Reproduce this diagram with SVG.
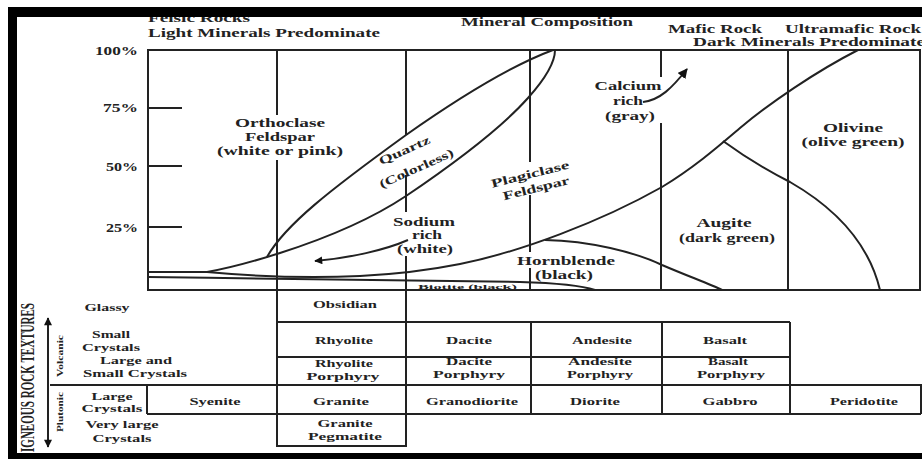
<svg xmlns="http://www.w3.org/2000/svg" width="922" height="459" viewBox="0 0 922 459">
<style>
text{font-family:"Liberation Serif","Times New Roman",serif;font-weight:bold;fill:#222}
.h{font-size:13px}
.c{font-size:12px}
.s{font-size:10px}
.m{text-anchor:middle}
.e{text-anchor:end}
.ln{stroke:#222;stroke-width:2;fill:none}
.bar{fill:#000}
</style>
<defs>
<marker id="ah" viewBox="0 0 10 10" refX="9" refY="5" markerWidth="13" markerHeight="8" markerUnits="userSpaceOnUse" orient="auto-start-reverse">
<path d="M0,0 L10,5 L0,10 z" fill="#111"/>
</marker>
<marker id="ah2" viewBox="0 0 10 10" refX="9" refY="5" markerWidth="10" markerHeight="10" markerUnits="userSpaceOnUse" orient="auto-start-reverse">
<path d="M0,0 L10,5 L0,10 z" fill="#111"/>
</marker>
</defs>
<rect width="922" height="459" fill="#fff"/>

<g id="header">
<text x="148" y="22" style="font-size:12px" textLength="102" lengthAdjust="spacingAndGlyphs">Felsic Rocks</text>
<text class="h" x="148" y="37" textLength="232" lengthAdjust="spacingAndGlyphs">Light Minerals Predominate</text>
<text class="h" x="461" y="26" textLength="172" lengthAdjust="spacingAndGlyphs">Mineral Composition</text>
<text class="h" x="668" y="33" textLength="94" lengthAdjust="spacingAndGlyphs">Mafic Rock</text>
<text class="h" x="785" y="33" textLength="136" lengthAdjust="spacingAndGlyphs">Ultramafic Rock</text>
<text class="h" x="693" y="46" textLength="232" lengthAdjust="spacingAndGlyphs">Dark Minerals Predominate</text>
</g>

<g id="axis">
<text class="c" x="138" y="55" text-anchor="end" textLength="43" lengthAdjust="spacingAndGlyphs">100%</text>
<text class="c" x="138" y="112" text-anchor="end" textLength="35" lengthAdjust="spacingAndGlyphs">75%</text>
<text class="c" x="138" y="171" text-anchor="end" textLength="32" lengthAdjust="spacingAndGlyphs">50%</text>
<text class="c" x="138" y="232" text-anchor="end" textLength="32" lengthAdjust="spacingAndGlyphs">25%</text>
<path class="ln" d="M148,108 H182 M148,166 H182 M148,227 H182"/>
</g>

<g id="connectors">
<rect class="ln" x="148" y="50" width="772" height="240"/>
<path class="ln" d="M277,50 V115 M277,160 V447 M406,50 V135 M406,175 V212 M406,256 V447 M530,50 V162 M530,195 V252 M530,268 V290 M661,50 V77 M661,123 V290 M788,50 V290"/>
<path class="ln" d="M148,272 L207,272 C230,268 255,261 280,253 C330,237 370,220 406,196 C440,173 495,135 528,98 C545,79 555,62 555,50"/>
<path class="ln" d="M267,257 C285,225 330,190 406,135 C460,97 510,66 553,50"/>
<path class="ln" d="M207,272 C240,275 300,279 360,276 C400,274 430,270 460,264 C520,252 600,222 662,187 C695,167 720,145 740,128 C770,103 815,72 858,50"/>
<path class="ln" d="M545,240 C590,241 635,252 662,265 C690,277 710,284 722,290"/>
<path class="ln" d="M723,141 C745,157 770,172 790,182 C830,205 868,240 880,290"/>
<path class="ln" d="M148,277 C300,279 470,281 520,282 C555,283 580,285 595,290"/>
<path class="ln" d="M408,240 C385,250 350,258 315,261" marker-end="url(#ah)"/>
<path class="ln" d="M643,102 C660,100 672,88 687,69" marker-end="url(#ah2)"/>
<path class="ln" d="M48,318 V447" marker-start="url(#ah)" marker-end="url(#ah)"/>
<path class="ln" d="M277,322 H790 M277,357 H790 M50,385 H922 M147,414 H921 M277,446 H406 M147,385 V414 M531,322 V414 M662,322 V414 M790,322 V414 M921,385 V414"/>
</g>

<g id="minerals">
<g id="orthoclase">
<text class="c m" x="280" y="127" textLength="90" lengthAdjust="spacingAndGlyphs">Orthoclase</text>
<text class="c m" x="280" y="141" textLength="70" lengthAdjust="spacingAndGlyphs">Feldspar</text>
<text class="c m" x="280" y="155" textLength="126" lengthAdjust="spacingAndGlyphs">(white or pink)</text>
</g>
<g id="quartz">
<text class="c m" transform="translate(406,154) rotate(-24)" textLength="55" lengthAdjust="spacingAndGlyphs">Quartz</text>
<text class="c m" transform="translate(418,172) rotate(-24)" textLength="80" lengthAdjust="spacingAndGlyphs">(Colorless)</text>
</g>
<g id="plagioclase">
<text class="c m" transform="translate(531,178) rotate(-14)" textLength="80" lengthAdjust="spacingAndGlyphs">Plagiclase</text>
<text class="c m" transform="translate(537,192) rotate(-14)" textLength="68" lengthAdjust="spacingAndGlyphs">Feldspar</text>
</g>
<g id="sodium">
<text class="c m" x="424" y="226" textLength="62" lengthAdjust="spacingAndGlyphs">Sodium</text>
<text class="c m" x="427" y="239" textLength="30" lengthAdjust="spacingAndGlyphs">rich</text>
<text class="c m" x="425" y="253" textLength="56" lengthAdjust="spacingAndGlyphs">(white)</text>
</g>
<g id="calcium">
<text class="c m" x="628" y="90" textLength="67" lengthAdjust="spacingAndGlyphs">Calcium</text>
<text class="c m" x="628" y="105" textLength="30" lengthAdjust="spacingAndGlyphs">rich</text>
<text class="c m" x="630" y="120" textLength="50" lengthAdjust="spacingAndGlyphs">(gray)</text>
</g>
<g id="olivine">
<text class="c m" x="853" y="132" textLength="60" lengthAdjust="spacingAndGlyphs">Olivine</text>
<text class="c m" x="853" y="146" textLength="103" lengthAdjust="spacingAndGlyphs">(olive green)</text>
</g>
<g id="augite">
<text class="c m" x="724" y="227" textLength="55" lengthAdjust="spacingAndGlyphs">Augite</text>
<text class="c m" x="727" y="242" textLength="96" lengthAdjust="spacingAndGlyphs">(dark green)</text>
</g>
<g id="hornblende">
<text class="c m" x="566" y="265" textLength="98" lengthAdjust="spacingAndGlyphs">Hornblende</text>
<text class="c m" x="564" y="279" textLength="58" lengthAdjust="spacingAndGlyphs">(black)</text>
</g>
<g id="biotite">
<text x="418" y="288.5" style="font-size:7px" textLength="99" lengthAdjust="spacingAndGlyphs">Biotite (black)</text>
</g>
</g>

<g id="textures">
<text transform="translate(34,452) rotate(-90)" style="font-size:18px" textLength="149" lengthAdjust="spacingAndGlyphs">IGNEOUS ROCK TEXTURES</text>
<text transform="translate(63,356) rotate(-90)" class="m" style="font-size:9px" textLength="42" lengthAdjust="spacingAndGlyphs">Volcanic</text>
<text transform="translate(63,412) rotate(-90)" class="m" style="font-size:9px" textLength="40" lengthAdjust="spacingAndGlyphs">Plutonic</text>
<g id="row-glassy"><text class="s m" x="107" y="311" textLength="45" lengthAdjust="spacingAndGlyphs">Glassy</text></g>
<g id="row-small">
<text class="s m" x="111" y="338" textLength="38" lengthAdjust="spacingAndGlyphs">Small</text>
<text class="s m" x="111" y="351" textLength="58" lengthAdjust="spacingAndGlyphs">Crystals</text>
</g>
<g id="row-largesmall">
<text class="s m" x="136" y="364" textLength="72" lengthAdjust="spacingAndGlyphs">Large and</text>
<text class="s m" x="135" y="377" textLength="104" lengthAdjust="spacingAndGlyphs">Small Crystals</text>
</g>
<g id="row-large">
<text class="s m" x="112" y="400" textLength="41" lengthAdjust="spacingAndGlyphs">Large</text>
<text class="s m" x="112" y="412" textLength="61" lengthAdjust="spacingAndGlyphs">Crystals</text>
</g>
<g id="row-verylarge">
<text class="s m" x="122" y="428" textLength="73" lengthAdjust="spacingAndGlyphs">Very large</text>
<text class="s m" x="122" y="442" textLength="59" lengthAdjust="spacingAndGlyphs">Crystals</text>
</g>
</g>

<g id="rocks">
<g id="obsidian"><text class="s m" x="345" y="308" textLength="64" lengthAdjust="spacingAndGlyphs">Obsidian</text></g>
<g id="rhyolite"><text class="s m" x="344" y="344" textLength="58" lengthAdjust="spacingAndGlyphs">Rhyolite</text></g>
<g id="rhyolite-porphyry">
<text class="s m" x="344" y="367" textLength="58" lengthAdjust="spacingAndGlyphs">Rhyolite</text>
<text class="s m" x="343" y="380" textLength="73" lengthAdjust="spacingAndGlyphs">Porphyry</text>
</g>
<g id="granite"><text class="s m" x="341" y="405" textLength="56" lengthAdjust="spacingAndGlyphs">Granite</text></g>
<g id="granite-pegmatite">
<text class="s m" x="345" y="427" textLength="55" lengthAdjust="spacingAndGlyphs">Granite</text>
<text class="s m" x="345" y="440" textLength="74" lengthAdjust="spacingAndGlyphs">Pegmatite</text>
</g>
<g id="syenite"><text class="s m" x="215" y="405" textLength="51" lengthAdjust="spacingAndGlyphs">Syenite</text></g>
<g id="dacite"><text class="s m" x="469" y="344" textLength="46" lengthAdjust="spacingAndGlyphs">Dacite</text></g>
<g id="dacite-porphyry">
<text class="s m" x="469" y="365" textLength="46" lengthAdjust="spacingAndGlyphs">Dacite</text>
<text class="s m" x="469" y="378" textLength="72" lengthAdjust="spacingAndGlyphs">Porphyry</text>
</g>
<g id="granodiorite"><text class="s m" x="472" y="405" textLength="92" lengthAdjust="spacingAndGlyphs">Granodiorite</text></g>
<g id="andesite"><text class="s m" x="602" y="344" textLength="60" lengthAdjust="spacingAndGlyphs">Andesite</text></g>
<g id="andesite-porphyry">
<text class="s m" x="600" y="365" textLength="64" lengthAdjust="spacingAndGlyphs">Andesite</text>
<text class="s m" x="600" y="378" textLength="66" lengthAdjust="spacingAndGlyphs">Porphyry</text>
</g>
<g id="diorite"><text class="s m" x="595" y="405" textLength="50" lengthAdjust="spacingAndGlyphs">Diorite</text></g>
<g id="basalt"><text class="s m" x="725" y="344" textLength="44" lengthAdjust="spacingAndGlyphs">Basalt</text></g>
<g id="basalt-porphyry">
<text class="s m" x="728" y="365" textLength="40" lengthAdjust="spacingAndGlyphs">Basalt</text>
<text class="s m" x="731" y="378" textLength="68" lengthAdjust="spacingAndGlyphs">Porphyry</text>
</g>
<g id="gabbro"><text class="s m" x="730" y="405" textLength="55" lengthAdjust="spacingAndGlyphs">Gabbro</text></g>
<g id="peridotite"><text class="s m" x="864" y="405" textLength="68" lengthAdjust="spacingAndGlyphs">Peridotite</text></g>
</g>

<g id="frame">
<rect class="bar" x="8" y="7" width="914" height="10"/>
<rect class="bar" x="8" y="7" width="9" height="452"/>
<rect class="bar" x="8" y="453" width="914" height="6"/>
</g>
</svg>
